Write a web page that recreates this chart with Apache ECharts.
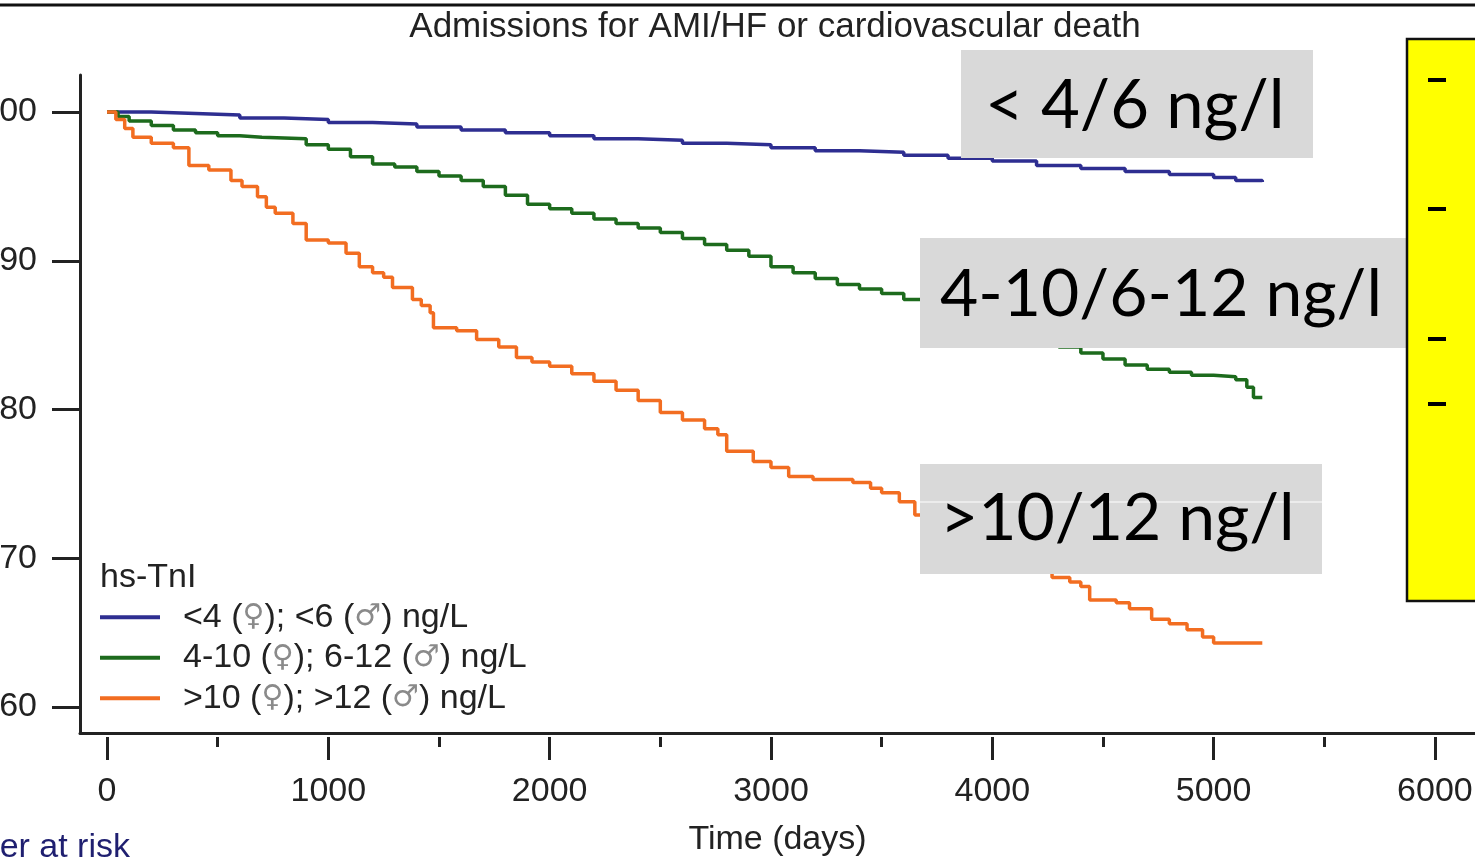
<!DOCTYPE html>
<html>
<head>
<meta charset="utf-8">
<script src="https://cdn.jsdelivr.net/npm/echarts@6/dist/echarts.min.js"></script>
<style>
html,body{margin:0;padding:0;background:#fff;}
#chart{width:1475px;height:861px;}
</style>
</head>
<body>
<div id="chart"></div>
<script>
// ---- data ----
const chartTitle = 'Admissions for AMI/HF or cardiovascular death';
const xTickValues = [0, 1000, 2000, 3000, 4000, 5000, 6000];
const xMinorTickValues = [500, 1500, 2500, 3500, 4500, 5500];
const yTickValues = [60, 70, 80, 90, 100];
const seriesNames = ['<4 (♀); <6 (♂) ng/L', '4-10 (♀); 6-12 (♂) ng/L', '>10 (♀); >12 (♂) ng/L'];

const lowDays = [0,200,400,600,800,1000,1200,1400,1600,1800,2000,2200,2400,2600,2800,3000,3200,3400,3600,3800,4000,4200,4400,4600,4800,5000,5100,5220];
const lowVals = [100,99.9,99.8,99.6,99.5,99.3,99.2,99.0,98.8,98.6,98.4,98.2,98.1,97.9,97.8,97.6,97.4,97.3,97.1,96.9,96.7,96.4,96.2,96.0,95.8,95.6,95.4,95.3];

const midDays = [0,50,100,200,300,400,500,600,700,800,900,1000,1100,1200,1300,1400,1500,1600,1700,1800,1900,2000,2100,2200,2300,2400,2500,2600,2700,2800,2900,3000,3100,3200,3300,3400,3500,3600,3700,3800,3900,4000,4100,4200,4300,4400,4500,4600,4700,4800,4900,5000,5100,5150,5180,5220];
const midVals = [100,99.7,99.4,99.1,98.8,98.6,98.4,98.3,98.25,98.2,97.8,97.5,97.0,96.5,96.3,96.0,95.7,95.4,95.0,94.4,93.8,93.5,93.2,92.8,92.5,92.2,91.9,91.5,91.1,90.7,90.3,89.6,89.2,88.8,88.4,88.1,87.8,87.4,86.8,86.3,85.8,85.4,85.0,84.6,84.2,83.8,83.4,83.0,82.7,82.5,82.3,82.2,82.0,81.5,80.8,80.8];

const highDays = [0,40,80,117,200,300,370,460,560,610,680,720,760,840,900,1000,1080,1140,1200,1250,1290,1380,1420,1460,1475,1580,1670,1770,1850,1920,2000,2100,2200,2300,2400,2500,2600,2700,2760,2800,2920,3000,3080,3190,3370,3450,3500,3580,3650,3700,3800,3900,4000,4100,4200,4270,4350,4400,4440,4560,4620,4720,4800,4880,4950,5000,5220];
const highVals = [100,99.5,98.9,98.3,97.9,97.6,96.4,96.1,95.4,95.0,94.3,93.6,93.2,92.5,91.4,91.2,90.5,89.6,89.2,88.9,88.2,87.4,87.0,86.5,85.5,85.3,84.7,84.2,83.5,83.2,82.9,82.4,81.9,81.3,80.6,79.8,79.3,78.7,78.3,77.2,76.5,76.1,75.5,75.3,75.1,74.7,74.4,73.8,72.9,72.3,71.5,70.9,70.4,69.8,69.2,68.7,68.4,68.1,67.2,67.0,66.6,65.9,65.6,65.2,64.7,64.3,64.3];

const boxLabels = ['< 4/6 ng/l', '4-10/6-12 ng/l', '>10/12 ng/l'];

// ---- build ----
const pair = (d, v) => d.map((x, i) => [x, v[i]]);
const colors = ['#2e2e91', '#1d6b1d', '#f26d21'];
const FONT = '"Liberation Sans", Arial, sans-serif';
const BIG = 'Lato, "Open Sans", sans-serif';

const chart = echarts.init(document.getElementById('chart'), null, {renderer: 'canvas'});

function legendFmt(name) {
  return name.replace(/♀/g, '{g|♀}').replace(/♂/g, '{g|♂}');
}

const xBase = {type: 'value', min: -122, max: 6181, splitLine: {show: false}, position: 'bottom'};

const option = {
  backgroundColor: '#fff',
  animation: false,
  title: {
    text: chartTitle, left: 775, top: 10, textAlign: 'center', padding: 0,
    textStyle: {fontFamily: FONT, fontSize: 35, fontWeight: 'normal', color: '#222'}
  },
  grid: {left: 80, right: 0, top: 75, bottom: 128, containLabel: false, outerBoundsMode: 'none'},
  legend: {
    orient: 'vertical', left: 100, top: 597, padding: 0, itemGap: 0,
    icon: 'rect', itemWidth: 60, itemHeight: 4,
    data: seriesNames,
    formatter: legendFmt,
    textStyle: {
      fontFamily: FONT, fontSize: 34, color: '#222', lineHeight: 40.5, padding: [0, 0, 0, 18],
      rich: {g: {fontFamily: '"DejaVu Sans", sans-serif', fontSize: 30, color: '#8a8a8a', lineHeight: 40.5}}
    }
  },
  xAxis: [
    Object.assign({}, xBase, {
      axisLine: {show: true, onZero: false, lineStyle: {color: '#222', width: 3}},
      axisTick: {show: false}, axisLabel: {show: false}
    }),
    Object.assign({}, xBase, {
      offset: 4,
      axisLine: {show: false, onZero: false},
      axisTick: {show: true, customValues: xTickValues, length: 23, lineStyle: {color: '#222', width: 3}},
      axisLabel: {show: true, customValues: xTickValues, formatter: v => String(v), fontFamily: FONT, fontSize: 34, color: '#222', margin: 38},
      name: 'Time (days)', nameLocation: 'middle', nameGap: 86,
      nameTextStyle: {fontFamily: FONT, fontSize: 34, color: '#222'}
    }),
    Object.assign({}, xBase, {
      offset: 4,
      axisLine: {show: false, onZero: false},
      axisTick: {show: true, customValues: xMinorTickValues, length: 10, lineStyle: {color: '#222', width: 3}},
      axisLabel: {show: false}
    })
  ],
  yAxis: {
    type: 'value', min: 58.25, max: 102.49,
    splitLine: {show: false},
    axisLine: {show: true, onZero: false, lineStyle: {color: '#222', width: 3}},
    axisTick: {show: true, customValues: yTickValues, length: 28, lineStyle: {color: '#222', width: 3}},
    axisLabel: {show: true, customValues: yTickValues, formatter: v => String(v), fontFamily: FONT, fontSize: 34, color: '#222', margin: 43}
  },
  series: [
    {name: seriesNames[0], type: 'line', step: 'end', showSymbol: false, data: pair(lowDays, lowVals),
     lineStyle: {width: 3.5, color: colors[0]}, itemStyle: {color: colors[0]}, z: 3},
    {name: seriesNames[1], type: 'line', step: 'end', showSymbol: false, data: pair(midDays, midVals),
     lineStyle: {width: 3.5, color: colors[1]}, itemStyle: {color: colors[1]}, z: 3},
    {name: seriesNames[2], type: 'line', step: 'end', showSymbol: false, data: pair(highDays, highVals),
     lineStyle: {width: 3.5, color: colors[2]}, itemStyle: {color: colors[2]}, z: 3}
  ],
  graphic: [
    {type: 'line', z: 100, shape: {x1: 0, y1: 5, x2: 1475, y2: 5}, style: {stroke: '#111', lineWidth: 3}},
    {type: 'text', z: 100, left: 100, top: 561, style: {text: 'hs-TnI', font: '34px ' + FONT, fill: '#222'}},
    {type: 'text', z: 100, x: 130, y: 848, style: {text: 'Number at risk', font: '34px ' + FONT, fill: '#1f1f70', textAlign: 'right', textVerticalAlign: 'middle'}},
    // grey label boxes
    {type: 'rect', z: 100, shape: {x: 961, y: 50, width: 352, height: 108}, style: {fill: '#d9d9d9'}},
    {type: 'text', z: 101, x: 985, y: 106, style: {text: boxLabels[0], font: '67px ' + BIG, fill: '#000', textVerticalAlign: 'middle'}},
    {type: 'rect', z: 100, shape: {x: 920, y: 238, width: 486, height: 110}, style: {fill: '#d9d9d9'}},
    {type: 'text', z: 101, x: 940, y: 295, style: {text: boxLabels[1], font: '66px ' + BIG, fill: '#000', textVerticalAlign: 'middle'}},
    {type: 'rect', z: 100, shape: {x: 920, y: 464, width: 402, height: 110}, style: {fill: '#d9d9d9'}},
    {type: 'line', z: 100, shape: {x1: 920, y1: 502, x2: 1322, y2: 502}, style: {stroke: '#fff', lineWidth: 1}},
    {type: 'text', z: 101, x: 940, y: 519, style: {text: boxLabels[2], font: '66px ' + BIG, fill: '#000', textVerticalAlign: 'middle'}},
    // yellow box
    {type: 'rect', z: 100, shape: {x: 1407, y: 39, width: 100, height: 562}, style: {fill: '#ffff00', stroke: '#111', lineWidth: 2.5}},
    {type: 'rect', z: 101, shape: {x: 1428, y: 78, width: 18, height: 4}, style: {fill: '#000'}},
    {type: 'rect', z: 101, shape: {x: 1428, y: 207, width: 18, height: 4}, style: {fill: '#000'}},
    {type: 'rect', z: 101, shape: {x: 1428, y: 337, width: 18, height: 4}, style: {fill: '#000'}},
    {type: 'rect', z: 101, shape: {x: 1428, y: 402, width: 18, height: 4}, style: {fill: '#000'}}
  ]
};
chart.setOption(option);
</script>
</body>
</html>
